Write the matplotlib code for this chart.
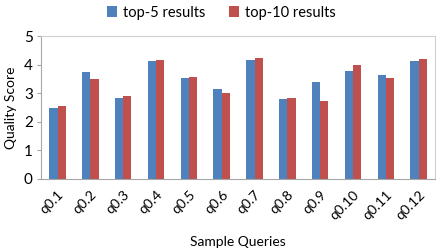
import matplotlib
matplotlib.use('Agg')
import matplotlib.pyplot as plt
import numpy as np

plt.rcParams['font.family'] = ['Lato', 'DejaVu Sans']

queries = ['q0.1', 'q0.2', 'q0.3', 'q0.4', 'q0.5', 'q0.6',
           'q0.7', 'q0.8', 'q0.9', 'q0.10', 'q0.11', 'q0.12']
top5 = [2.47, 3.73, 2.84, 4.11, 3.54, 3.14, 4.16, 2.79, 3.39, 3.78, 3.65, 4.12]
top10 = [2.55, 3.49, 2.90, 4.15, 3.56, 2.99, 4.22, 2.82, 2.72, 3.99, 3.54, 4.18]

BLUE = '#4f81bd'
RED = '#c0504d'
GREY = '#a6a6a6'

fig = plt.figure(figsize=(4.43, 2.5), dpi=100)
ax = fig.add_axes([0.093, 0.284, 0.889, 0.572])

x = np.arange(len(queries))
w = 0.25
ax.bar(x - w / 2, top5, w, color=BLUE, label='top-5 results')
ax.bar(x + w / 2, top10, w, color=RED, label='top-10 results')

ax.set_xlim(-0.5, len(queries) - 0.5)
ax.set_ylim(0, 5)
ax.set_yticks(range(6))
ax.tick_params(axis='y', labelsize=11, length=3, color=GREY, pad=3)
ax.set_xticks(x)
ax.set_xticklabels(queries, rotation=45, ha='right', rotation_mode='anchor', fontsize=10)
ax.tick_params(axis='x', length=0, pad=7)

for s in ax.spines.values():
    s.set_color('#d0d0d0')
    s.set_linewidth(0.8)
ax.spines['left'].set_color(GREY)
ax.spines['bottom'].set_color(GREY)

ax.set_ylabel('Quality Score', fontsize=10, labelpad=5)
ax.set_xlabel('Sample Queries', fontsize=10, labelpad=10)

fig.legend(loc='upper center', bbox_to_anchor=(0.5, 1.03), ncol=2, frameon=False,
           fontsize=10.5, handlelength=0.7, handleheight=0.7, handletextpad=0.4,
           columnspacing=1.6)

fig.savefig('out.png', dpi=100)
